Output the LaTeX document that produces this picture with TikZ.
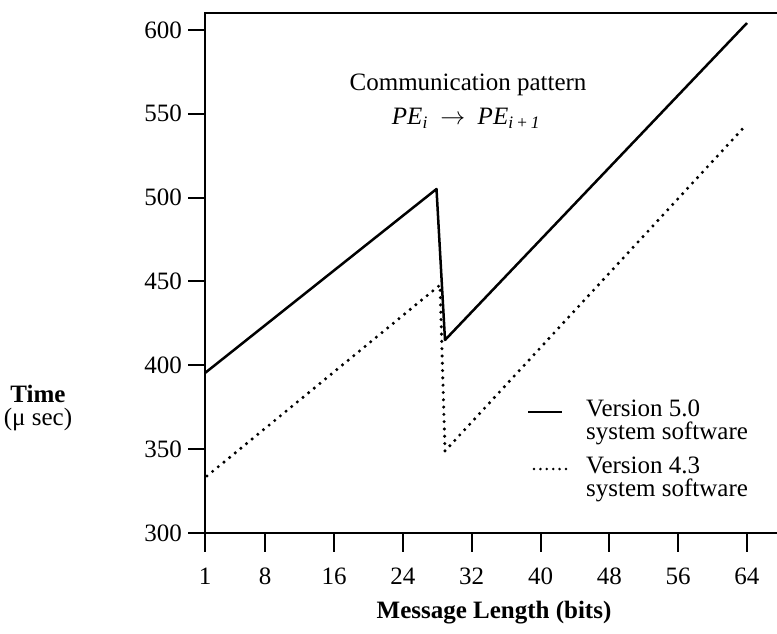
\documentclass[tikz,border=0pt]{standalone}
\usepackage{fontspec}
\setmainfont{Liberation Serif}
\begin{document}
\begin{tikzpicture}[x=1pt,y=-1pt,
  axisline/.style={line width=2pt},
  tickmark/.style={line width=2pt},
  vfive/.style={line width=2.5pt, line join=round},
  vfour/.style={line width=3.4pt, line cap=round, dash pattern=on 0pt off 7.3pt},
  lbl/.style={font=\fontsize{25}{23}\selectfont, inner sep=0pt},
  lbltwo/.style={font=\fontsize{25}{23}\selectfont, inner sep=0pt, align=left, anchor=west}]
\useasboundingbox (0,0) rectangle (777,633);

% frame: left axis, top edge, bottom axis
\coordinate (tl) at (205,13);
\coordinate (tr) at (777,13);
\coordinate (bl) at (205,533);
\coordinate (br) at (777,533);
\draw[axisline] (tr) -- (tl) -- (bl) -- (br);

% y ticks and labels (300..600 us)
\foreach \v in {300,350,...,600} {
  \draw[tickmark] ({188},{533-(\v-300)*1.677}) -- ({205},{533-(\v-300)*1.677});
  \node[lbl, anchor=east] (y\v) at ({182},{533-(\v-300)*1.677}) {\v};
}

% x ticks and labels (message length in bits)
\foreach \b in {1,8,16,24,32,40,48,56,64} {
  \draw[tickmark] ({205+(\b-1)*8.603},{533}) -- ({205+(\b-1)*8.603},{552});
  \node[lbl] (x\b) at ({205+(\b-1)*8.603},{576}) {\b};
}

% axis titles
\node[lbl, font=\fontsize{25}{23}\selectfont\bfseries] (xtitle) at (494,613) {Message Length (bits)};
\node[lbl, align=center] (ytitle) at (38,408) {\textbf{Time}\\(μ sec)};

% annotation
\node[lbl] (pattern) at (468,85) {Communication pattern};
\node[lbl] (formula) at (466,118) {\itshape PE\textsubscript{i}\enspace$\rightarrow$\enspace PE\textsubscript{i\,+\,1}};

% version 5.0 curve
\coordinate (a0) at (205,373);
\coordinate (a1) at (436.5,189);
\coordinate (a2) at (445,340);
\coordinate (a3) at (747,23);
\draw[vfive] (a0) -- (a1) -- (a2) -- (a3);

% version 4.3 curve
\coordinate (b0) at (207,476);
\coordinate (b1) at (440,285);
\coordinate (b2) at (445,451);
\coordinate (b3) at (747,124);
\draw[vfour] (b0) -- (b1) -- (b2) -- (b3);

% legend
\coordinate (la) at (528,412);
\coordinate (lb) at (562,412);
\draw[line width=2pt] (la) -- (lb);
\node[lbltwo] (leg5) at (586,422) {Version 5.0\\system software};
\coordinate (lc) at (534,469);
\coordinate (ld) at (566,469);
\draw[vfour, line width=2.8pt, dash pattern=on 0pt off 6.4pt] (lc) -- (ld);
\node[lbltwo] (leg4) at (586,479) {Version 4.3\\system software};
\end{tikzpicture}
\end{document}
